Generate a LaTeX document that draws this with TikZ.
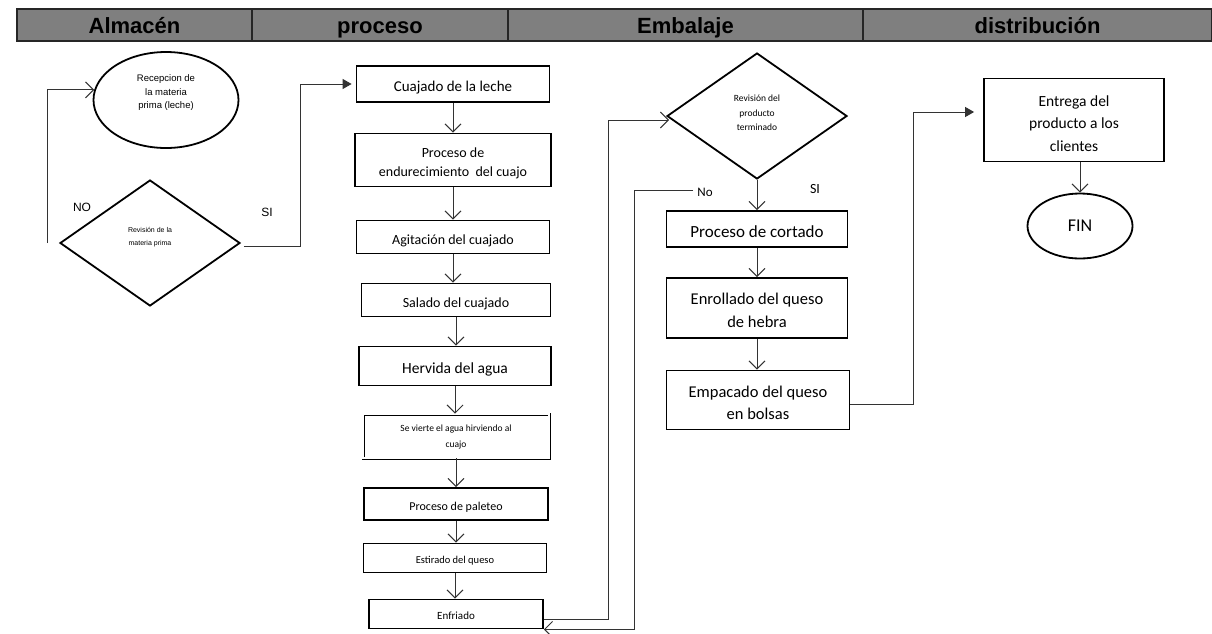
\documentclass[tikz,border=0pt]{standalone}
\usepackage{fontspec}
\setmainfont{Carlito}
\newfontfamily\arial{Liberation Sans}
\usetikzlibrary{arrows.meta,shapes.geometric,calc}
\definecolor{hdrgray}{HTML}{7F7F7F}
\definecolor{lineg}{HTML}{333333}
\tikzset{
  st/.style={execute at begin node={\rule{0pt}{1.25em}}, execute at end node={\rule[-0.25em]{0pt}{0.25em}}},
  hdr/.style={draw=black!85, line width=1.2pt, fill=hdrgray, minimum height=32pt, inner sep=0pt,
    text height=16pt, text depth=0pt,
    font=\arial\bfseries\fontsize{22}{24}\selectfont},
  pbox/.style={draw, line width=1.8pt, align=center, inner sep=0pt, st},
  dbox/.style={draw, line width=0.7pt, double, double distance=1.6pt, inner sep=0pt},
  dia/.style={draw, diamond, line width=1.8pt, inner sep=0pt, minimum width=180pt, minimum height=126pt},
  ell/.style={draw, ellipse, line width=1.8pt, inner sep=0pt, align=center},
  txt/.style={inner sep=0pt, align=center},
  conn/.style={draw=lineg, line width=1pt},
  arr/.style={-{Straight Barb[length=8pt,width=16pt]}},
  farr/.style={-{Triangle[length=9pt,width=10pt]}},
  lbl/.style={inner sep=0pt}
}
\begin{document}
\begin{tikzpicture}[x=1pt,y=-1pt]
\useasboundingbox (0,0) rectangle (1212,633);
% header
\node[hdr, minimum width=235pt] (h1) at (134.5,25) {Almacén};
\node[hdr, minimum width=256pt] (h2) at (380,25) {proceso};
\node[hdr, minimum width=355pt] (h3) at (685.5,25) {Embalaje};
\node[hdr, minimum width=349pt] (h4) at (1037.5,25) {distribución};

% Almacen
\node[ell, minimum width=145pt, minimum height=96pt] (rec) at (166,100) {};
\node[txt, font=\arial\fontsize{9.5}{13.5}\selectfont] (recT) at (166,93) {Recepcion de\\la materia\\prima (leche)};
\node[dia] (rev1) at (150,243) {};
\node[txt, font=\arial\fontsize{7}{13}\selectfont] (rev1T) at (150,237) {Revisión de la\\materia prima};
\coordinate (noS) at (47,243);
\node[lbl, font=\arial\fontsize{12}{14}\selectfont] (lNO) at (82,207) {NO};
\node[lbl, font=\arial\fontsize{12}{14}\selectfont] (lSI) at (267,212) {SI};

% proceso
\node[pbox, minimum width=193pt, minimum height=36pt, font=\fontsize{15}{18}\selectfont] (cuaj) at (453,84) {Cuajado de la leche};
\node[pbox, minimum width=196pt, minimum height=53pt] (endu) at (453,160) {};
\node[txt, font=\fontsize{14}{19}\selectfont] (enduT) at (453,163.5) {Proceso de\\endurecimiento\ \ del cuajo};
\node[pbox, minimum width=193pt, minimum height=33pt, font=\fontsize{14}{17}\selectfont] (agit) at (453,237) {Agitación del cuajado};
\node[pbox, minimum width=189pt, minimum height=33pt, font=\fontsize{14}{17}\selectfont] (sala) at (456,300) {Salado del cuajado};
\node[pbox, minimum width=192pt, minimum height=39pt, font=\fontsize{15.5}{18}\selectfont] (herv) at (455,366) {Hervida del agua};
\node[dbox, minimum width=186pt, minimum height=44pt] (vier) at (456,436) {};
\node[txt, font=\fontsize{9.5}{16}\selectfont] (vierT) at (456,437.5) {Se vierte el agua hirviendo al\\cuajo};
\node[pbox, minimum width=184pt, minimum height=32pt, font=\fontsize{12}{14}\selectfont] (pale) at (456,504) {Proceso\ de\ paleteo};
\node[pbox, minimum width=183pt, minimum height=29pt, font=\fontsize{10.5}{13}\selectfont] (esti) at (455,558) {Estirado del queso};
\node[pbox, minimum width=174pt, minimum height=29pt, font=\fontsize{11}{13}\selectfont] (enf) at (456,614) {Enfriado};

% Embalaje
\node[dia] (rev2) at (757,116) {};
\node[txt, font=\fontsize{9.5}{14.5}\selectfont] (rev2T) at (757,113) {Revisión del\\producto\\terminado};
\coordinate (noS2) at (693,190);
\node[lbl, font=\fontsize{13}{15}\selectfont] (lNo) at (705,192) {No};
\node[lbl, font=\fontsize{14}{16}\selectfont] (lSI2) at (815,189) {SI};
\node[pbox, minimum width=181pt, minimum height=36pt, font=\fontsize{17}{20}\selectfont] (cort) at (757,229) {Proceso de cortado};
\node[pbox, minimum width=181pt, minimum height=60pt] (enro) at (757,308) {};
\node[txt, font=\fontsize{16.5}{23}\selectfont] (enroT) at (757,310.5) {Enrollado del queso\\de hebra};
\node[pbox, minimum width=183pt, minimum height=59pt] (empa) at (758,400) {};
\node[txt, font=\fontsize{16.5}{22}\selectfont] (empaT) at (758,403) {Empacado del queso\\en bolsas};

% distribucion
\node[pbox, minimum width=180pt, minimum height=83pt] (entr) at (1074,120) {};
\node[txt, font=\fontsize{15.5}{22.5}\selectfont] (entrT) at (1074,123.5) {Entrega del\\producto a los\\clientes};
\node[ell, minimum width=105pt, minimum height=65pt, font=\fontsize{18}{20}\selectfont] (fin) at (1080,226) {FIN};

% connectors
\draw[conn, arr] (noS) |- (rec.172);
\draw[conn, farr] ($(rev1.east)+(3,3)$) -- ++(57,0) |- ($(cuaj.west)+(-4,0)$);
\draw[conn, arr] (cuaj.south) -- (cuaj.south |- endu.north);
\draw[conn, arr] (endu.south) -- (endu.south |- agit.north);
\draw[conn, arr] (agit.south) -- (agit.south |- sala.north);
\draw[conn, arr] (sala.south) -- (sala.south |- herv.north);
\draw[conn, arr] (herv.south) -- (herv.south |- vier.north);
\draw[conn, arr] (vier.south) -- (vier.south |- pale.north);
\draw[conn, arr] (pale.south) -- (pale.south |- esti.north);
\draw[conn, arr] (esti.south) -- (esti.south |- enf.north);
\draw[conn, arr] ($(enf.east)+(0,5)$) -- ++(65,0) |- ($(rev2.west)+(3,4)$);
\draw[conn, arr] (noS2) -- ++(-59,0) |- (enf.south east);
\draw[conn, arr] (rev2.south) -- (rev2.south |- cort.north);
\draw[conn, arr] (cort.south) -- (cort.south |- enro.north);
\draw[conn, arr] (enro.south) -- (enro.south |- empa.north);
\draw[conn, farr] ($(empa.east)+(0,4)$) -- ++(63,0) |- ($(entr.west)+(-9,-8)$);
\draw[conn, arr] (fin.north |- entr.south) -- (fin.north);
\end{tikzpicture}
\end{document}
